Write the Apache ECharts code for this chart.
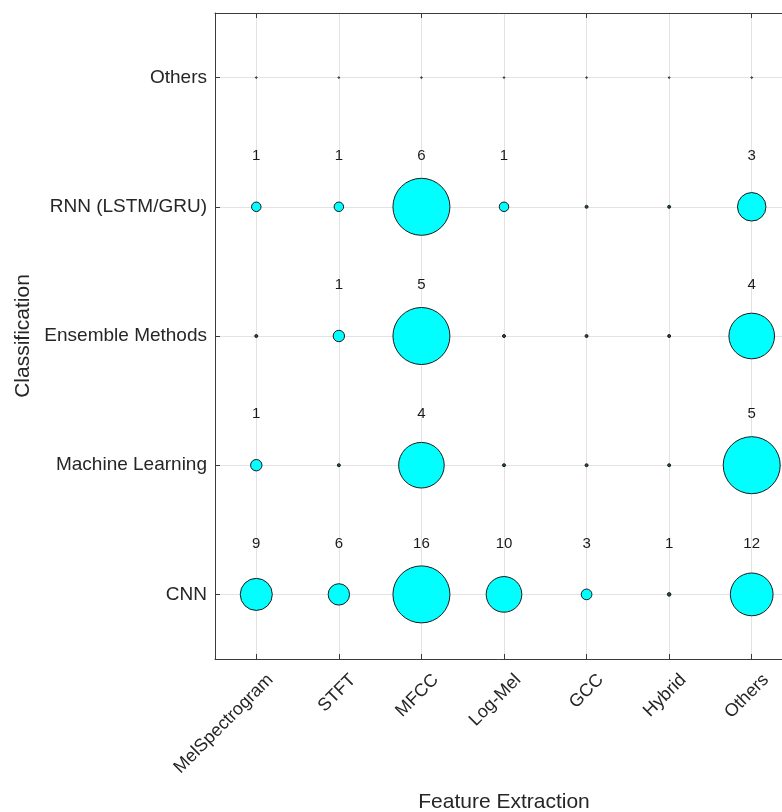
<!DOCTYPE html>
<html>
<head>
<meta charset="utf-8">
<script src="https://cdn.jsdelivr.net/npm/echarts@6/dist/echarts.min.js"></script>
<style>
html,body{margin:0;padding:0;background:#fff;}
#chart{width:782px;height:812px;}
</style>
</head>
<body>
<div id="chart"></div>
<script>
const features = ['MelSpectrogram', 'STFT', 'MFCC', 'Log-Mel', 'GCC', 'Hybrid', 'Others'];
const classes = ['CNN', 'Machine Learning', 'Ensemble Methods', 'RNN (LSTM/GRU)', 'Others'];
const cnn = [9, 6, 16, 10, 3, 1, 12];
const machineLearning = [1, 0, 4, 0, 0, 0, 5];
const ensembleMethods = [0, 1, 5, 0, 0, 0, 4];
const rnn = [1, 1, 6, 1, 0, 0, 3];
const othersClass = [0, 0, 0, 0, 0, 0, 0];
const rows = [cnn, machineLearning, ensembleMethods, rnn, othersClass];

const data = [];
rows.forEach(function (row, yi) {
  const rowMax = Math.max.apply(null, row);
  row.forEach(function (v, xi) {
    data.push([xi, yi, v, rowMax]);
  });
});

const FONT = 'Liberation Sans, Arial, sans-serif';
const TXT = '#262626';
const AX = '#3a3a3a';

const chart = echarts.init(document.getElementById('chart'), null, {renderer: 'canvas'});
chart.setOption({
  animation: false,
  backgroundColor: '#fff',
  grid: {left: 215, top: 13, right: -11, bottom: 153, containLabel: false, outerBoundsMode: 'none'},
  xAxis: [{
    type: 'category', data: features, position: 'bottom',
    boundaryGap: true,
    axisLine: {show: true, lineStyle: {color: AX, width: 1}},
    axisTick: {show: true, inside: true, length: 5, alignWithLabel: true, lineStyle: {color: AX}},
    axisLabel: {rotate: 45, fontSize: 18, color: TXT, fontFamily: FONT, margin: 4, interval: 0,
      verticalAlign: 'top', lineHeight: 40},
    splitLine: {show: true, alignWithLabel: true, lineStyle: {color: '#e3e3e3', width: 1}},
    name: 'Feature Extraction', nameLocation: 'middle', nameGap: 128,
    nameTextStyle: {fontSize: 21, color: TXT, fontFamily: FONT}
  }, {
    type: 'category', data: features, position: 'top',
    boundaryGap: true,
    axisLine: {show: true, lineStyle: {color: AX, width: 1}},
    axisTick: {show: true, inside: true, length: 5, alignWithLabel: true, lineStyle: {color: AX}},
    axisLabel: {show: false},
    splitLine: {show: false}
  }],
  yAxis: [{
    type: 'category', data: classes,
    boundaryGap: true,
    axisLine: {show: true, lineStyle: {color: AX, width: 1}},
    axisTick: {show: true, inside: true, length: 5, alignWithLabel: true, lineStyle: {color: AX}},
    axisLabel: {fontSize: 19, color: TXT, fontFamily: FONT, margin: 8},
    splitLine: {show: true, alignWithLabel: true, lineStyle: {color: '#e3e3e3', width: 1}},
    name: 'Classification', nameLocation: 'middle', nameGap: 174,
    nameTextStyle: {fontSize: 21, color: TXT, fontFamily: FONT}
  }],
  series: [{
    type: 'scatter',
    xAxisIndex: 0, yAxisIndex: 0,
    data: data,
    symbol: 'circle',
    symbolSize: function (val) {
      if (val[3] === 0) return 1.5;
      if (val[2] === 0) return 3;
      return Math.max(3, val[2] / val[3] * 57);
    },
    itemStyle: {
      color: function (p) {
        if (p.value[3] === 0) return '#999';
        if (p.value[2] / p.value[3] * 57 < 5) return '#1d4f4f';
        return '#00ffff';
      },
      borderColor: '#1a1a1a', borderWidth: 1, opacity: 1
    },
    label: {
      show: true, position: 'inside', offset: [0, -51],
      formatter: function (p) { return p.value[2] > 0 ? String(p.value[2]) : ''; },
      fontSize: 15, color: '#1a1a1a', fontFamily: FONT
    },
    emphasis: {disabled: true}
  }]
});
</script>
</body>
</html>
